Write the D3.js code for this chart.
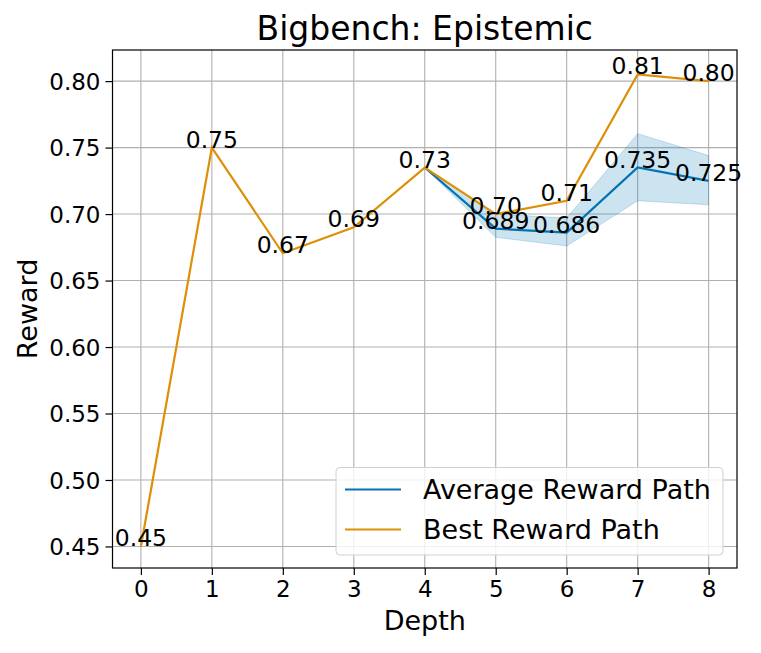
<!DOCTYPE html>
<html>
<head>
<meta charset="utf-8">
<script src="https://cdn.jsdelivr.net/npm/d3@7"></script>
<style>
  body { margin: 0; background: #fff; }
  text { font-family: "DejaVu Sans", sans-serif; }
</style>
</head>
<body>
<script>
var depths = [0, 1, 2, 3, 4, 5, 6, 7, 8];
var bestReward = [0.45, 0.75, 0.6705, 0.69, 0.735, 0.70, 0.71, 0.805, 0.80];
var bestLabels = ["0.45", "0.75", "0.67", "0.69", "0.73", "0.70", "0.71", "0.81", "0.80"];
var avgDepths = [4, 5, 6, 7, 8];
var avgReward = [0.735, 0.689, 0.686, 0.735, 0.725];
var avgLabels = ["", "0.689", "0.686", "0.735", "0.725"];
var avgLow = [0.735, 0.6825, 0.676, 0.710, 0.707];
var avgHigh = [0.735, 0.700, 0.697, 0.7605, 0.744];
var yTicks = [0.45, 0.50, 0.55, 0.60, 0.65, 0.70, 0.75, 0.80];

var width = 761;
var height = 653;
var plotLeft = 112.5, plotRight = 737, plotTop = 50, plotBottom = 568;

var blue = "#0173b2";
var orange = "#de8f05";

var svg = d3.select("body")
  .append("svg")
  .attr("width", width)
  .attr("height", height);

var x = d3.scaleLinear().domain([-0.4, 8.4]).range([plotLeft, plotRight]);
var y = d3.scaleLinear().domain([0.4338, 0.8234]).range([plotBottom, plotTop]);

// grid
svg.append("g")
  .selectAll("line")
  .data(depths)
  .enter()
  .append("line")
  .attr("x1", function(d) { return x(d); })
  .attr("x2", function(d) { return x(d); })
  .attr("y1", plotTop)
  .attr("y2", plotBottom)
  .attr("stroke", "#b0b0b0")
  .attr("stroke-width", 1.1);

svg.append("g")
  .selectAll("line")
  .data(yTicks)
  .enter()
  .append("line")
  .attr("x1", plotLeft)
  .attr("x2", plotRight)
  .attr("y1", function(d) { return y(d); })
  .attr("y2", function(d) { return y(d); })
  .attr("stroke", "#b0b0b0")
  .attr("stroke-width", 1.1);

// band round the average path
var band = d3.area()
  .x(function(d, i) { return x(avgDepths[i]); })
  .y0(function(d, i) { return y(avgLow[i]); })
  .y1(function(d, i) { return y(avgHigh[i]); });

svg.append("path")
  .datum(avgDepths)
  .attr("d", band)
  .attr("fill", blue)
  .attr("fill-opacity", 0.2)
  .attr("stroke", blue)
  .attr("stroke-opacity", 0.2)
  .attr("stroke-width", 1);

var line = d3.line()
  .x(function(d) { return x(d[0]); })
  .y(function(d) { return y(d[1]); });

svg.append("path")
  .datum(avgDepths.map(function(d, i) { return [d, avgReward[i]]; }))
  .attr("d", line)
  .attr("fill", "none")
  .attr("stroke", blue)
  .attr("stroke-width", 2.2);

svg.append("path")
  .datum(depths.map(function(d, i) { return [d, bestReward[i]]; }))
  .attr("d", line)
  .attr("fill", "none")
  .attr("stroke", orange)
  .attr("stroke-width", 2.2);

// value labels
svg.append("g")
  .selectAll("text")
  .data(depths)
  .enter()
  .append("text")
  .attr("x", function(d) { return x(d); })
  .attr("y", function(d, i) { return y(bestReward[i]); })
  .attr("text-anchor", "middle")
  .attr("font-size", "23.5px")
  .attr("fill", "#000")
  .text(function(d, i) { return bestLabels[i]; });

svg.append("g")
  .selectAll("text")
  .data(avgDepths)
  .enter()
  .append("text")
  .attr("x", function(d) { return x(d); })
  .attr("y", function(d, i) { return y(avgReward[i]); })
  .attr("text-anchor", "middle")
  .attr("font-size", "23.5px")
  .attr("fill", "#000")
  .text(function(d, i) { return avgLabels[i]; });

// axes
var xAxis = svg.append("g")
  .attr("transform", "translate(0," + plotBottom + ")")
  .call(d3.axisBottom(x).tickValues(depths).tickSize(7).tickPadding(6).tickFormat(d3.format("d")));
var yAxis = svg.append("g")
  .attr("transform", "translate(" + plotLeft + ",0)")
  .call(d3.axisLeft(y).tickValues(yTicks).tickSize(7).tickPadding(5).tickFormat(d3.format(".2f")));

[xAxis, yAxis].forEach(function(a) {
  a.select(".domain").remove();
  a.selectAll(".tick line").attr("stroke", "#000").attr("stroke-width", 1.2);
  a.selectAll(".tick text").attr("font-size", "23px").attr("fill", "#000")
    .attr("font-family", "DejaVu Sans, sans-serif");
});
yAxis.selectAll(".tick text").attr("dy", "0.36em");

svg.append("rect")
  .attr("x", plotLeft)
  .attr("y", plotTop)
  .attr("width", plotRight - plotLeft)
  .attr("height", plotBottom - plotTop)
  .attr("fill", "none")
  .attr("stroke", "#000")
  .attr("stroke-width", 1.2);

// legend
var legend = svg.append("g");
legend.append("rect")
  .attr("x", 336)
  .attr("y", 467.5)
  .attr("width", 387)
  .attr("height", 87.5)
  .attr("rx", 4)
  .attr("fill", "#fff")
  .attr("fill-opacity", 0.8)
  .attr("stroke", "#d0d0d0")
  .attr("stroke-width", 1);

var legendNames = ["Average Reward Path", "Best Reward Path"];
var legendColors = [blue, orange];
legend.selectAll("line")
  .data(legendNames)
  .enter()
  .append("line")
  .attr("x1", 345)
  .attr("x2", 401)
  .attr("y1", function(d, i) { return 489.5 + i * 40; })
  .attr("y2", function(d, i) { return 489.5 + i * 40; })
  .attr("stroke", function(d, i) { return legendColors[i]; })
  .attr("stroke-width", 2.2);
legend.selectAll("text")
  .data(legendNames)
  .enter()
  .append("text")
  .attr("x", 423)
  .attr("y", function(d, i) { return 498.5 + i * 40; })
  .attr("font-size", "27px")
  .attr("fill", "#000")
  .text(function(d) { return d; });

// titles
svg.append("text")
  .attr("x", (plotLeft + plotRight) / 2)
  .attr("y", 40)
  .attr("text-anchor", "middle")
  .attr("font-size", "33px")
  .text("Bigbench: Epistemic");

svg.append("text")
  .attr("x", (plotLeft + plotRight) / 2)
  .attr("y", 630)
  .attr("text-anchor", "middle")
  .attr("font-size", "27px")
  .text("Depth");

svg.append("text")
  .attr("transform", "translate(36.5," + ((plotTop + plotBottom) / 2) + ") rotate(-90)")
  .attr("text-anchor", "middle")
  .attr("font-size", "27px")
  .text("Reward");
</script>
</body>
</html>
